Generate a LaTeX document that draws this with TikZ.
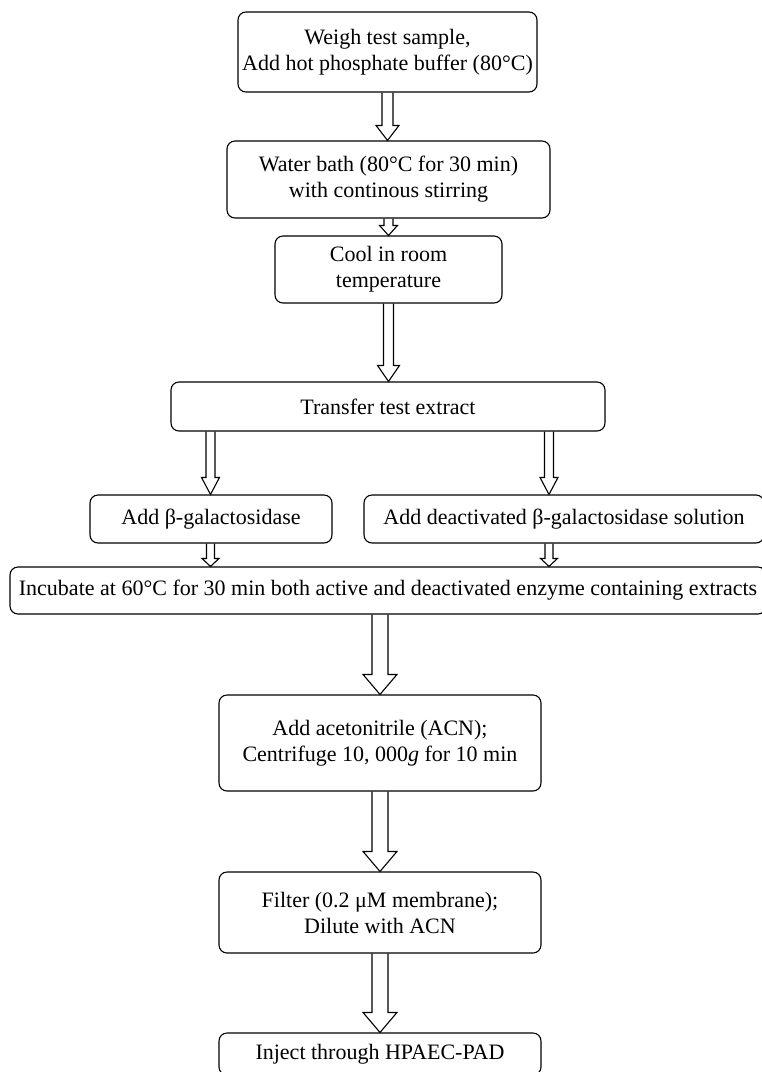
\documentclass[tikz,border=0pt]{standalone}
\usepackage{fontspec}
\setmainfont{Liberation Serif}
\usetikzlibrary{calc,positioning}

\newcommand{\fatarrow}[5]{%
  \draw[hollow] let \p1=(#1), \p2=(#2) in
    (\x1-#3/2,\y1) -- (\x1-#3/2,\y2+#5) -- (\x1-#4/2,\y2+#5) -- (\x1,\y2)
    -- (\x1+#4/2,\y2+#5) -- (\x1+#3/2,\y2+#5) -- (\x1+#3/2,\y1);}

\begin{document}
\begin{tikzpicture}[
  x=1pt, y=-1pt,
  box/.style={draw, rounded corners=8pt, line width=1.1pt, align=center, inner sep=2pt,
    font=\fontsize{22pt}{26pt}\selectfont},
  hollow/.style={line width=1.1pt, line join=miter}
]
\useasboundingbox (0,0) rectangle (762,1072);
\clip (0,0) rectangle (762,1072);

\node[box, minimum width=299pt, minimum height=80pt] (weigh) at (387.5,52)
  {Weigh test sample,\\Add hot phosphate buffer (80°C)};
\node[box, minimum width=323pt, minimum height=77pt] (bath) at (388.5,179.5)
  {Water bath (80°C for 30 min)\\with continous stirring};
\node[box, minimum width=227pt, minimum height=67pt] (cool) at (388.5,269.5)
  {Cool in room\\temperature};
\node[box, minimum width=434pt, minimum height=49pt] (transfer) at (388,406.5)
  {Transfer test extract};
\node[box, minimum width=242pt, minimum height=48pt] (enzyme) at (211,519)
  {Add β-galactosidase};
\node[box, minimum width=400pt, minimum height=48pt] (blank) at (564,519)
  {Add deactivated β-galactosidase solution};
\node[box, minimum width=756pt, minimum height=47pt] (incubate) at (388,590.5)
  {Incubate at 60°C for 30 min both active and deactivated enzyme containing extracts};
\node[box, minimum width=322pt, minimum height=96pt] (acn) at (380,743)
  {Add acetonitrile (ACN);\\Centrifuge 10, 000\textit{g} for 10 min};
\node[box, minimum width=322pt, minimum height=81pt] (filter) at (380,912.5)
  {Filter (0.2 μM membrane);\\Dilute with ACN};
\node[box, minimum width=322pt, minimum height=42pt] (inject) at (380,1054)
  {Inject through HPAEC-PAD};

\coordinate (leftcol) at (210.5,0);
\coordinate (rightcol) at (549,0);

\fatarrow{weigh.south}{bath.north}{11pt}{23pt}{15pt}
\fatarrow{bath.south}{cool.north}{9pt}{18pt}{10pt}
\fatarrow{cool.south}{transfer.north}{10pt}{22pt}{16pt}
\fatarrow{transfer.south -| leftcol}{enzyme.north -| leftcol}{9pt}{18pt}{17pt}
\fatarrow{transfer.south -| rightcol}{blank.north -| rightcol}{9pt}{18pt}{17pt}
\fatarrow{enzyme.south -| leftcol}{incubate.north -| leftcol}{8pt}{17pt}{8pt}
\fatarrow{blank.south -| rightcol}{incubate.north -| rightcol}{8pt}{17pt}{8pt}
\fatarrow{incubate.south -| acn.north}{acn.north}{16pt}{34pt}{20pt}
\fatarrow{acn.south}{filter.north}{16pt}{34pt}{20pt}
\fatarrow{filter.south}{inject.north}{16pt}{34pt}{20pt}
\end{tikzpicture}
\end{document}
